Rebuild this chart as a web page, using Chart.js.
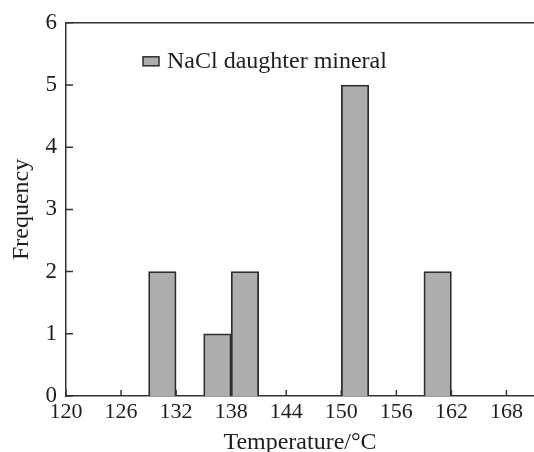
<!DOCTYPE html>
<html>
<head>
<meta charset="utf-8">
<script src="https://cdn.jsdelivr.net/npm/chart.js@4.4.0/dist/chart.umd.min.js"></script>
<style>
  html, body { margin: 0; padding: 0; background: #fff; overflow: hidden; }
  #wrap { width: 534px; height: 452px; }
</style>
</head>
<body>
<div id="wrap"><canvas id="chart"></canvas></div>
<script>
// Datos (histograma, bins de 3 °C)
const binStarts = [129, 135, 138, 150, 159];
const frequencies = [2, 1, 2, 5, 2];
const binWidth = 3;
const xTicks = [120, 126, 132, 138, 144, 150, 156, 162, 168];
const yTicks = [0, 1, 2, 3, 4, 5, 6];
const seriesLabel = "NaCl daughter mineral";

const FONT = "'Liberation Serif', 'Times New Roman', serif";
const INK = "#333";
const TEXT = "#1e1e1e";

// ticks hacia dentro + borde superior
const innerTicks = {
  id: "innerTicks",
  beforeDatasetsDraw(chart) {
    const { ctx, scales: { x, y } } = chart;
    ctx.save();
    ctx.strokeStyle = INK;
    ctx.lineWidth = 1.5;
    ctx.beginPath();
    x.ticks.forEach(t => {
      const px = x.getPixelForValue(t.value);
      ctx.moveTo(px, y.bottom);
      ctx.lineTo(px, y.bottom - 6);
    });
    y.ticks.forEach(t => {
      const py = y.getPixelForValue(t.value);
      ctx.moveTo(x.left, py);
      ctx.lineTo(x.left + 7, py);
    });
    ctx.stroke();
    ctx.restore();
  },
  afterDraw(chart) {
    const { ctx, chartArea: a } = chart;
    ctx.save();
    ctx.strokeStyle = INK;
    ctx.lineWidth = 1.5;
    ctx.beginPath();
    ctx.moveTo(a.left, a.top);
    ctx.lineTo(a.right, a.top);
    ctx.stroke();
    ctx.restore();
  }
};

// leyenda dentro del área
const innerLegend = {
  id: "innerLegend",
  afterDraw(chart) {
    const { ctx, chartArea: a } = chart;
    const ds = chart.data.datasets[0];
    const bx = a.left + 77, by = a.top + 34;
    ctx.save();
    ctx.fillStyle = ds.backgroundColor;
    ctx.strokeStyle = ds.borderColor;
    ctx.lineWidth = 1.5;
    ctx.fillRect(bx, by, 16, 9);
    ctx.strokeRect(bx, by, 16, 9);
    ctx.fillStyle = TEXT;
    ctx.font = "24px " + FONT;
    ctx.textBaseline = "middle";
    ctx.fillText(ds.label, bx + 24, by + 5);
    ctx.restore();
  }
};

new Chart(document.getElementById("chart"), {
  type: "bar",
  data: {
    datasets: [
      {
        label: seriesLabel,
        data: binStarts.map((s, i) => ({ x: s + binWidth / 2, y: frequencies[i] })),
        backgroundColor: "#adadad",
        borderColor: "#2e2e2e",
        borderWidth: 1.8,
        borderSkipped: "bottom",
        barPercentage: 1,
        categoryPercentage: 1,
      },
    ],
  },
  options: {
    responsive: true,
    maintainAspectRatio: false,
    animation: false,
    layout: { padding: { top: 22, right: 0, left: 0, bottom: 0 } },
    plugins: {
      legend: { display: false },
      tooltip: { enabled: false },
    },
    scales: {
      x: {
        type: "linear",
        min: 120,
        max: 171,
        offset: false,
        grid: { display: false, drawTicks: false },
        border: { display: true, color: INK, width: 1.5 },
        afterBuildTicks: (s) => { s.ticks = xTicks.map(v => ({ value: v })); },
        afterFit: (s) => { s.height = 56; },
        ticks: {
          padding: 3,
          color: TEXT,
          font: { family: FONT, size: 22 },
          maxRotation: 0,
          autoSkip: false,
        },
        title: {
          display: true,
          text: "Temperature/°C",
          color: TEXT,
          font: { family: FONT, size: 24, lineHeight: 1 },
          padding: { top: 0, bottom: -3 },
        },
      },
      y: {
        min: 0,
        max: 6,
        grid: { display: false, drawTicks: false },
        border: { display: true, color: INK, width: 1.5 },
        afterBuildTicks: (s) => { s.ticks = yTicks.map(v => ({ value: v })); },
        afterFit: (s) => { s.width = 66; },
        ticks: {
          padding: 9,
          color: TEXT,
          font: { family: FONT, size: 23 },
        },
        title: {
          display: true,
          text: "Frequency",
          color: TEXT,
          font: { family: FONT, size: 24, lineHeight: 1 },
          padding: { top: 10, bottom: 0 },
        },
      },
    },
  },
  plugins: [innerTicks, innerLegend],
});
</script>
</body>
</html>
